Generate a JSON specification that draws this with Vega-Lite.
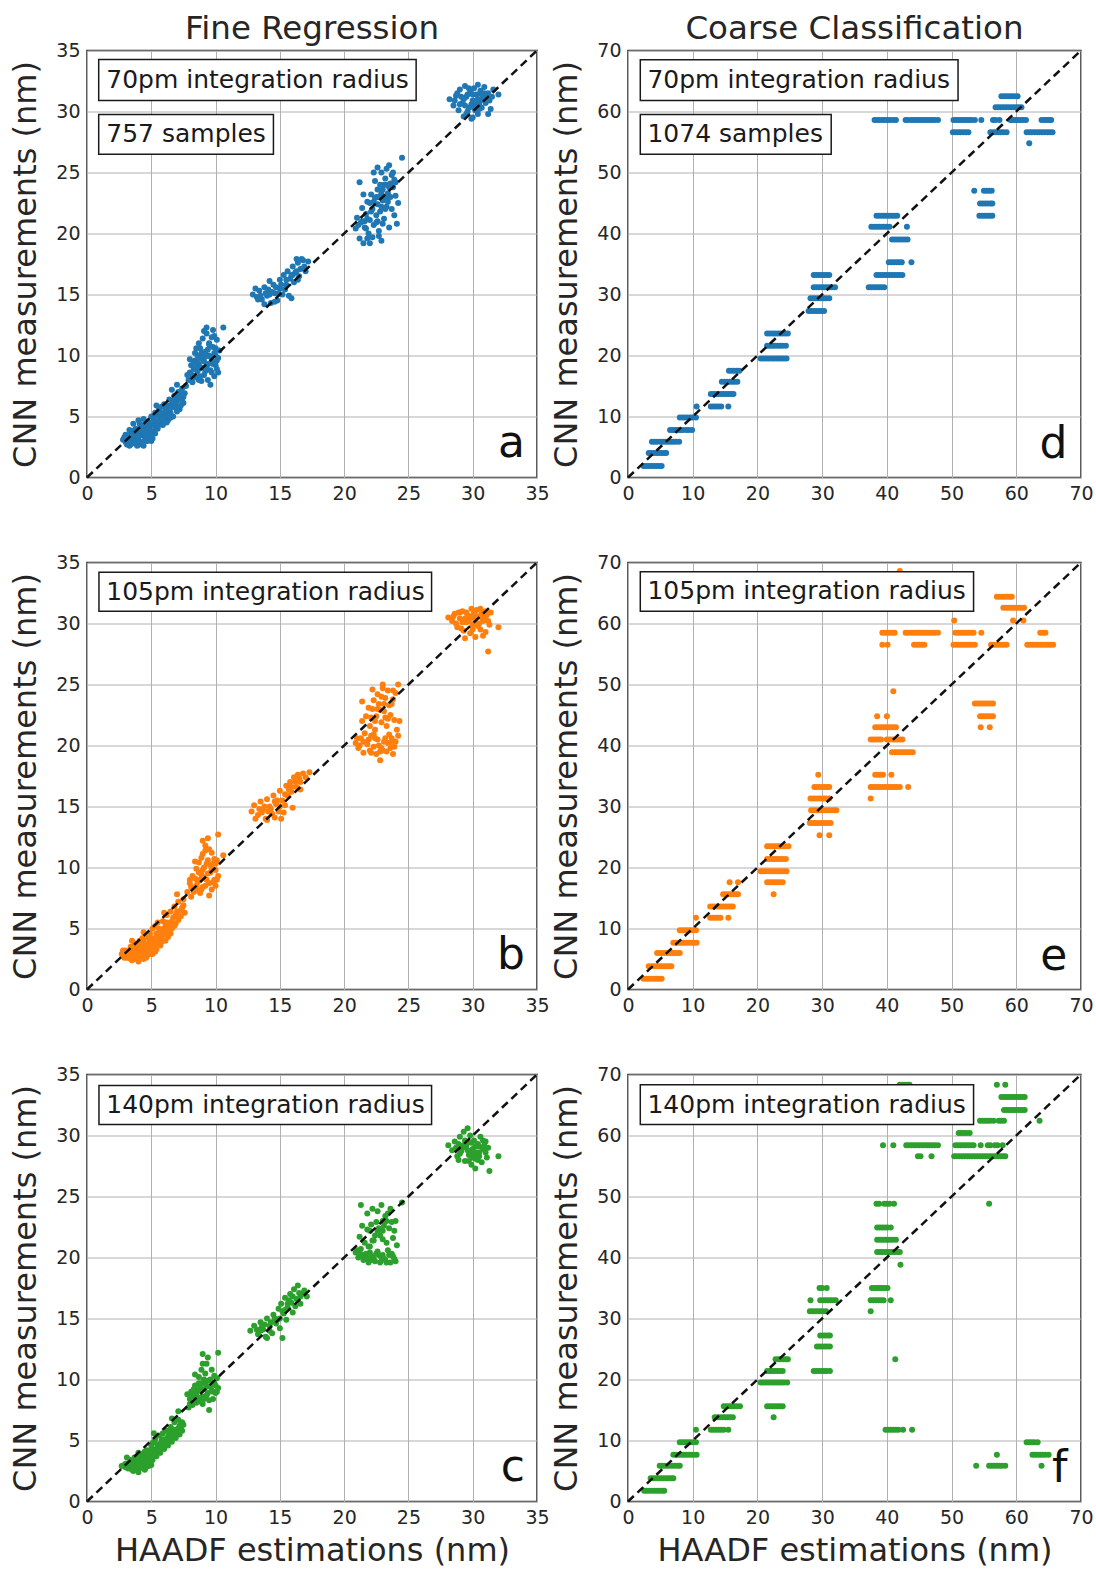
{
"$schema": "https://vega.github.io/schema/vega-lite/v6.json",
"padding": {"left": 9, "top": 11.5, "right": 0, "bottom": 0},
"background": "white",
"bounds": "flush",
"columns": 2,
"spacing": {"row": 85, "column": 91},
"config": {
 "font": "DejaVu Sans",
 "view": {"stroke": "#262626", "strokeWidth": 1.5},
 "axis": {"grid": true, "gridColor": "#b0b0b0", "gridWidth": 1, "ticks": false, "domain": false, "labelFont": "DejaVu Sans", "labelFontSize": 19, "labelColor": "#262626", "labelFlush": false, "labelOverlap": false, "labelBound": false, "titleFont": "DejaVu Sans", "titleFontSize": 32, "titleFontWeight": "normal", "titleColor": "#262626"},
 "axisX": {"labelPadding": 7, "titlePadding": 8},
 "axisY": {"labelPadding": 7, "titlePadding": 13},
 "title": {"font": "DejaVu Sans", "fontSize": 32.5, "fontWeight": "normal", "color": "#262626", "anchor": "middle", "offset": -3.6, "baseline": "alphabetic", "frame": "group"}
},
"datasets": {
"a": [
{"x":2.8,"y":3.1},{"x":3.0,"y":2.9},{"x":3.2,"y":3.3},{"x":3.1,"y":2.7},{"x":3.4,"y":3.0},{"x":3.5,"y":3.6},{"x":3.6,"y":2.8},{"x":3.7,"y":3.3},{"x":3.8,"y":4.0},{"x":3.9,"y":2.6},{"x":4.0,"y":3.1},{"x":4.1,"y":3.7},{"x":4.2,"y":4.3},{"x":4.3,"y":2.9},{"x":4.4,"y":3.4},{"x":4.5,"y":4.0},{"x":4.6,"y":3.2},{"x":4.7,"y":4.6},{"x":4.8,"y":3.6},{"x":4.9,"y":4.2},{"x":5.0,"y":3.0},{"x":5.0,"y":5.0},{"x":5.1,"y":4.4},{"x":5.2,"y":3.8},{"x":5.3,"y":5.3},{"x":5.4,"y":4.6},{"x":5.5,"y":4.0},{"x":5.6,"y":5.6},{"x":5.7,"y":4.8},{"x":5.8,"y":5.2},{"x":5.9,"y":4.3},{"x":6.0,"y":6.0},{"x":6.1,"y":5.0},{"x":6.2,"y":5.6},{"x":6.3,"y":4.7},{"x":6.4,"y":6.4},{"x":6.5,"y":5.3},{"x":6.6,"y":6.0},{"x":6.7,"y":5.0},{"x":6.8,"y":6.7},{"x":6.9,"y":5.7},{"x":7.0,"y":6.3},{"x":7.1,"y":7.0},{"x":7.2,"y":5.6},{"x":7.3,"y":6.6},{"x":7.4,"y":7.3},{"x":7.5,"y":6.1},{"x":7.6,"y":6.9},{"x":3.3,"y":3.9},{"x":4.4,"y":4.8},{"x":3.6,"y":4.4},{"x":4.2,"y":2.8},{"x":3.3,"y":2.6},{"x":4.7,"y":3.0},{"x":5.6,"y":4.6},{"x":6.0,"y":5.3},{"x":7.0,"y":7.6},{"x":6.6,"y":7.2},{"x":5.4,"y":5.9},{"x":4.0,"y":4.7},
{"x":3.0,"y":3.5},{"x":3.4,"y":2.7},{"x":3.5,"y":3.2},{"x":3.8,"y":3.6},{"x":3.9,"y":3.0},{"x":4.1,"y":2.7},{"x":4.2,"y":3.5},{"x":4.3,"y":4.1},{"x":4.5,"y":3.0},{"x":4.6,"y":3.8},{"x":4.8,"y":4.4},{"x":4.9,"y":3.3},{"x":5.1,"y":3.6},{"x":5.2,"y":4.8},{"x":5.3,"y":4.2},{"x":5.5,"y":5.1},{"x":5.7,"y":4.4},{"x":5.8,"y":5.8},{"x":6.0,"y":4.7},{"x":6.2,"y":5.2},{"x":6.4,"y":5.8},{"x":6.5,"y":4.9},{"x":6.8,"y":6.1},{"x":7.0,"y":5.4},{"x":7.2,"y":6.9},{"x":7.5,"y":6.6},{"x":7.7,"y":7.5},
{"x":2.9,"y":3.3},{"x":3.1,"y":3.0},{"x":3.3,"y":3.5},{"x":3.5,"y":2.8},{"x":3.7,"y":3.9},{"x":3.8,"y":2.9},{"x":4.0,"y":3.4},{"x":4.1,"y":4.4},{"x":4.3,"y":3.6},{"x":4.4,"y":2.6},{"x":4.6,"y":4.3},{"x":4.7,"y":3.3},{"x":4.9,"y":3.9},{"x":5.0,"y":4.5},{"x":5.1,"y":3.2},{"x":5.3,"y":3.6},{"x":5.4,"y":5.1},{"x":5.6,"y":4.3},{"x":5.7,"y":5.3},{"x":5.9,"y":4.8},{"x":6.1,"y":5.5},{"x":6.2,"y":4.5},{"x":6.3,"y":5.9},{"x":6.5,"y":5.7},{"x":6.7,"y":6.3},{"x":6.9,"y":6.0},{"x":7.1,"y":6.6},{"x":7.3,"y":5.9},{"x":7.4,"y":6.3},{"x":3.2,"y":2.9},{"x":3.6,"y":3.5},{"x":4.5,"y":3.6},{"x":5.5,"y":4.6},{"x":6.3,"y":5.1},
{"x":7.9,"y":8.0},{"x":8.0,"y":8.6},{"x":8.1,"y":9.2},{"x":8.2,"y":7.8},{"x":8.3,"y":8.9},{"x":8.4,"y":9.6},{"x":8.5,"y":8.2},{"x":8.6,"y":10.0},{"x":8.6,"y":8.7},{"x":8.7,"y":9.3},{"x":8.8,"y":10.6},{"x":8.9,"y":7.9},{"x":8.9,"y":9.0},{"x":9.0,"y":9.7},{"x":9.0,"y":11.4},{"x":9.1,"y":8.4},{"x":9.2,"y":10.3},{"x":9.3,"y":9.1},{"x":9.3,"y":11.8},{"x":9.4,"y":8.0},{"x":9.5,"y":10.0},{"x":9.5,"y":11.0},{"x":9.6,"y":8.8},{"x":9.7,"y":9.5},{"x":9.8,"y":10.7},{"x":9.8,"y":12.1},{"x":9.9,"y":8.3},{"x":10.0,"y":9.2},{"x":10.0,"y":10.0},{"x":10.1,"y":11.3},{"x":10.2,"y":8.6},{"x":10.2,"y":9.8},{"x":8.4,"y":10.2},{"x":7.8,"y":8.4},{"x":10.6,"y":12.3},{"x":9.1,"y":12.0},{"x":9.6,"y":7.6},
{"x":8.0,"y":9.7},{"x":8.2,"y":8.4},{"x":8.5,"y":9.0},{"x":8.7,"y":8.0},{"x":8.9,"y":10.2},{"x":9.1,"y":9.5},{"x":9.2,"y":8.7},{"x":9.4,"y":10.5},{"x":9.6,"y":9.9},{"x":9.7,"y":11.5},{"x":9.9,"y":10.2},{"x":10.1,"y":8.9},{"x":10.3,"y":10.4},{"x":8.7,"y":11.0},{"x":9.3,"y":12.3},
{"x":8.1,"y":8.0},{"x":8.3,"y":9.4},{"x":8.5,"y":10.6},{"x":8.6,"y":9.4},{"x":8.8,"y":8.3},{"x":9.0,"y":10.2},{"x":9.2,"y":9.9},{"x":9.4,"y":9.3},{"x":9.5,"y":10.9},{"x":9.7,"y":8.6},{"x":9.8,"y":9.3},{"x":10.0,"y":10.6},{"x":10.1,"y":9.6},{"x":9.9,"y":11.6},{"x":8.8,"y":9.8},
{"x":12.9,"y":15.0},{"x":13.2,"y":14.8},{"x":13.4,"y":15.3},{"x":13.6,"y":14.6},{"x":13.8,"y":15.6},{"x":14.0,"y":14.9},{"x":14.1,"y":15.4},{"x":14.3,"y":14.3},{"x":14.5,"y":15.8},{"x":14.6,"y":15.1},{"x":14.8,"y":14.5},{"x":15.0,"y":15.5},{"x":15.0,"y":16.2},{"x":15.2,"y":15.0},{"x":15.3,"y":16.6},{"x":15.5,"y":15.8},{"x":15.6,"y":16.9},{"x":15.7,"y":14.9},{"x":15.8,"y":16.3},{"x":16.0,"y":17.3},{"x":16.1,"y":16.0},{"x":16.2,"y":16.8},{"x":16.4,"y":17.6},{"x":16.5,"y":16.5},{"x":16.6,"y":17.1},{"x":16.8,"y":17.8},{"x":17.0,"y":16.9},{"x":17.2,"y":17.7},{"x":14.2,"y":16.1},{"x":13.8,"y":14.2},{"x":15.9,"y":14.7},{"x":16.3,"y":17.9},
{"x":13.5,"y":14.9},{"x":14.2,"y":15.0},{"x":14.9,"y":15.1},{"x":15.4,"y":15.4},{"x":15.9,"y":16.6},{"x":16.4,"y":16.2},{"x":16.9,"y":17.3},{"x":13.1,"y":15.5},{"x":14.6,"y":14.4},{"x":16.7,"y":17.9},
{"x":13.9,"y":15.1},{"x":14.4,"y":15.2},{"x":14.7,"y":15.6},{"x":15.1,"y":15.8},{"x":15.5,"y":16.2},{"x":16.0,"y":16.6},{"x":16.3,"y":16.9},{"x":13.3,"y":14.6},
{"x":20.9,"y":20.4},{"x":21.0,"y":21.3},{"x":21.2,"y":19.6},{"x":21.3,"y":20.9},{"x":21.4,"y":22.1},{"x":21.5,"y":19.2},{"x":21.6,"y":20.5},{"x":21.7,"y":21.6},{"x":21.8,"y":22.6},{"x":21.9,"y":20.0},{"x":22.0,"y":21.1},{"x":22.1,"y":23.2},{"x":22.2,"y":19.7},{"x":22.2,"y":22.0},{"x":22.3,"y":20.7},{"x":22.4,"y":24.3},{"x":22.5,"y":21.5},{"x":22.5,"y":23.0},{"x":22.6,"y":22.4},{"x":22.7,"y":20.2},{"x":22.8,"y":24.0},{"x":22.8,"y":21.8},{"x":22.9,"y":25.0},{"x":23.0,"y":22.7},{"x":23.0,"y":23.6},{"x":23.1,"y":21.2},{"x":23.2,"y":24.5},{"x":23.3,"y":22.2},{"x":23.3,"y":25.3},{"x":23.4,"y":23.3},{"x":23.5,"y":20.5},{"x":23.6,"y":24.1},{"x":23.7,"y":22.0},{"x":23.8,"y":25.0},{"x":23.9,"y":21.5},{"x":24.0,"y":23.1},{"x":24.1,"y":20.8},{"x":24.2,"y":22.5},{"x":24.5,"y":26.2},{"x":21.2,"y":24.2},{"x":22.0,"y":19.2},{"x":22.7,"y":19.8},{"x":23.5,"y":25.6},{"x":22.3,"y":25.0},{"x":23.8,"y":23.8},
{"x":21.6,"y":21.0},{"x":22.0,"y":22.5},{"x":22.4,"y":22.9},{"x":22.6,"y":21.0},{"x":22.9,"y":23.3},{"x":23.1,"y":24.0},{"x":23.2,"y":22.0},{"x":23.5,"y":23.8},{"x":23.7,"y":24.8},{"x":22.6,"y":23.6},{"x":21.8,"y":19.6},{"x":23.0,"y":20.8},{"x":24.0,"y":24.2},{"x":21.5,"y":23.2},{"x":22.9,"y":19.4},
{"x":21.1,"y":20.7},{"x":21.4,"y":21.0},{"x":21.8,"y":21.2},{"x":22.1,"y":21.8},{"x":22.3,"y":22.6},{"x":22.5,"y":20.9},{"x":22.7,"y":23.0},{"x":22.9,"y":22.2},{"x":23.2,"y":23.0},{"x":23.4,"y":22.6},{"x":23.6,"y":23.0},{"x":23.9,"y":24.4},{"x":22.6,"y":25.4},{"x":23.3,"y":24.0},{"x":21.7,"y":20.4},
{"x":28.2,"y":31.0},{"x":28.5,"y":30.5},{"x":28.7,"y":31.3},{"x":28.9,"y":30.1},{"x":29.0,"y":31.8},{"x":29.2,"y":30.7},{"x":29.3,"y":29.6},{"x":29.4,"y":32.1},{"x":29.5,"y":31.2},{"x":29.7,"y":30.3},{"x":29.8,"y":31.6},{"x":29.9,"y":29.4},{"x":30.0,"y":30.9},{"x":30.1,"y":31.9},{"x":30.2,"y":30.1},{"x":30.3,"y":31.4},{"x":30.4,"y":29.8},{"x":30.5,"y":30.6},{"x":30.6,"y":31.7},{"x":30.7,"y":30.3},{"x":30.8,"y":31.1},{"x":30.9,"y":32.0},{"x":31.0,"y":30.7},{"x":31.2,"y":31.5},{"x":31.4,"y":30.2},{"x":31.5,"y":31.2},{"x":32.0,"y":31.4},{"x":31.2,"y":29.8},{"x":29.6,"y":30.0},{"x":30.0,"y":29.5},
{"x":28.8,"y":31.5},{"x":29.1,"y":31.2},{"x":29.4,"y":30.5},{"x":29.7,"y":31.9},{"x":30.0,"y":31.4},{"x":30.2,"y":30.6},{"x":30.4,"y":32.2},{"x":30.6,"y":30.9},{"x":30.9,"y":31.5},{"x":31.3,"y":30.9},{"x":31.6,"y":31.8},{"x":29.5,"y":29.8},
{"x":28.6,"y":30.9},{"x":29.0,"y":30.6},{"x":29.3,"y":31.0},{"x":29.6,"y":31.4},{"x":29.9,"y":30.6},{"x":30.1,"y":30.3},{"x":30.4,"y":31.0},{"x":30.7,"y":31.4},{"x":31.0,"y":31.2},{"x":30.5,"y":30.2}
],
"b": [
{"x":2.7,"y":2.9},{"x":3.0,"y":3.2},{"x":3.1,"y":2.6},{"x":3.3,"y":2.9},{"x":3.4,"y":3.5},{"x":3.5,"y":2.4},{"x":3.6,"y":3.1},{"x":3.7,"y":3.8},{"x":3.8,"y":2.7},{"x":3.9,"y":3.3},{"x":4.0,"y":2.3},{"x":4.1,"y":4.0},{"x":4.2,"y":3.0},{"x":4.3,"y":3.6},{"x":4.4,"y":2.5},{"x":4.5,"y":4.3},{"x":4.6,"y":3.2},{"x":4.7,"y":2.8},{"x":4.8,"y":3.8},{"x":4.9,"y":4.6},{"x":5.0,"y":3.4},{"x":5.1,"y":5.0},{"x":5.2,"y":4.0},{"x":5.3,"y":3.1},{"x":5.4,"y":4.6},{"x":5.5,"y":5.5},{"x":5.6,"y":3.8},{"x":5.7,"y":4.9},{"x":5.8,"y":4.2},{"x":5.9,"y":5.6},{"x":6.0,"y":4.5},{"x":6.1,"y":5.2},{"x":6.2,"y":6.1},{"x":6.3,"y":4.3},{"x":6.4,"y":5.4},{"x":6.5,"y":6.4},{"x":6.6,"y":5.0},{"x":6.7,"y":5.9},{"x":6.8,"y":6.8},{"x":6.9,"y":5.4},{"x":7.0,"y":6.4},{"x":7.1,"y":7.2},{"x":7.2,"y":6.0},{"x":7.4,"y":6.7},{"x":7.5,"y":7.4},{"x":7.6,"y":6.3},{"x":3.5,"y":4.0},{"x":4.4,"y":4.7},{"x":5.0,"y":2.9},{"x":4.0,"y":3.6},{"x":6.0,"y":6.3},{"x":7.0,"y":7.8},
{"x":2.9,"y":2.6},{"x":3.2,"y":3.0},{"x":3.4,"y":2.5},{"x":3.6,"y":2.9},{"x":3.8,"y":3.4},{"x":4.0,"y":2.7},{"x":4.2,"y":3.3},{"x":4.4,"y":3.9},{"x":4.5,"y":2.8},{"x":4.7,"y":3.5},{"x":4.9,"y":3.0},{"x":5.1,"y":4.2},{"x":5.2,"y":3.6},{"x":5.4,"y":3.3},{"x":5.6,"y":4.4},{"x":5.8,"y":3.9},{"x":6.0,"y":5.0},{"x":6.2,"y":4.7},{"x":6.4,"y":4.9},{"x":6.6,"y":5.6},{"x":6.8,"y":5.2},{"x":7.0,"y":6.0},{"x":7.3,"y":6.5},{"x":7.5,"y":6.9},{"x":5.3,"y":5.2},
{"x":2.8,"y":3.2},{"x":3.1,"y":2.9},{"x":3.3,"y":2.6},{"x":3.5,"y":3.1},{"x":3.7,"y":2.5},{"x":3.9,"y":2.9},{"x":4.1,"y":3.2},{"x":4.3,"y":2.7},{"x":4.5,"y":3.5},{"x":4.6,"y":2.6},{"x":4.8,"y":3.2},{"x":5.0,"y":4.0},{"x":5.1,"y":2.9},{"x":5.3,"y":3.7},{"x":5.5,"y":4.2},{"x":5.7,"y":3.6},{"x":5.9,"y":4.6},{"x":6.1,"y":4.0},{"x":6.3,"y":5.0},{"x":6.5,"y":4.6},{"x":6.7,"y":5.3},{"x":6.9,"y":6.1},{"x":7.1,"y":5.7},{"x":7.3,"y":6.0},{"x":4.1,"y":3.6},{"x":4.8,"y":4.2},{"x":5.6,"y":5.0},{"x":6.2,"y":5.5},{"x":3.8,"y":3.0},{"x":4.3,"y":4.2},
{"x":7.8,"y":8.0},{"x":8.0,"y":8.7},{"x":8.1,"y":7.6},{"x":8.2,"y":9.3},{"x":8.3,"y":8.3},{"x":8.5,"y":9.9},{"x":8.6,"y":8.8},{"x":8.7,"y":10.4},{"x":8.8,"y":7.9},{"x":8.9,"y":9.4},{"x":9.0,"y":11.1},{"x":9.0,"y":8.4},{"x":9.1,"y":10.0},{"x":9.2,"y":11.8},{"x":9.3,"y":9.0},{"x":9.4,"y":10.6},{"x":9.5,"y":7.7},{"x":9.5,"y":11.5},{"x":9.6,"y":9.6},{"x":9.7,"y":8.2},{"x":9.8,"y":10.3},{"x":9.9,"y":9.0},{"x":10.0,"y":9.8},{"x":10.0,"y":8.5},{"x":10.1,"y":10.6},{"x":10.2,"y":9.3},{"x":9.4,"y":12.4},{"x":10.2,"y":12.7},{"x":8.4,"y":10.5},{"x":10.6,"y":11.0},
{"x":8.0,"y":9.0},{"x":8.3,"y":8.0},{"x":8.5,"y":8.5},{"x":8.7,"y":9.6},{"x":8.9,"y":8.2},{"x":9.1,"y":9.2},{"x":9.3,"y":10.3},{"x":9.5,"y":8.7},{"x":9.7,"y":9.9},{"x":9.9,"y":10.7},{"x":10.1,"y":9.0},{"x":9.2,"y":11.4},{"x":9.0,"y":12.2},
{"x":8.1,"y":8.4},{"x":8.4,"y":9.1},{"x":8.6,"y":8.1},{"x":8.8,"y":9.0},{"x":9.0,"y":9.8},{"x":9.2,"y":8.5},{"x":9.4,"y":9.5},{"x":9.6,"y":10.2},{"x":9.8,"y":8.8},{"x":10.0,"y":10.3},{"x":8.9,"y":10.8},{"x":9.7,"y":11.2},
{"x":12.8,"y":14.6},{"x":13.0,"y":15.1},{"x":13.3,"y":14.3},{"x":13.5,"y":15.4},{"x":13.7,"y":14.8},{"x":13.9,"y":14.0},{"x":14.0,"y":15.6},{"x":14.2,"y":15.0},{"x":14.4,"y":14.4},{"x":14.5,"y":15.9},{"x":14.7,"y":15.2},{"x":14.9,"y":14.6},{"x":15.0,"y":16.3},{"x":15.2,"y":15.5},{"x":15.3,"y":14.5},{"x":15.5,"y":16.7},{"x":15.6,"y":15.9},{"x":15.8,"y":17.0},{"x":15.9,"y":16.2},{"x":16.0,"y":14.9},{"x":16.1,"y":17.4},{"x":16.3,"y":16.6},{"x":16.4,"y":17.6},{"x":16.6,"y":17.0},{"x":16.8,"y":17.7},{"x":17.3,"y":17.8},{"x":14.0,"y":13.9},{"x":15.1,"y":14.0},
{"x":13.6,"y":14.5},{"x":14.3,"y":14.8},{"x":14.8,"y":15.5},{"x":15.4,"y":15.1},{"x":15.7,"y":16.4},{"x":16.2,"y":17.0},{"x":16.6,"y":16.4},{"x":13.1,"y":14.0},{"x":14.6,"y":14.1},{"x":17.0,"y":17.4},
{"x":13.8,"y":15.0},{"x":14.1,"y":14.6},{"x":14.6,"y":15.4},{"x":15.0,"y":15.0},{"x":15.4,"y":16.0},{"x":15.9,"y":16.6},{"x":16.5,"y":17.3},{"x":13.4,"y":14.8},
{"x":20.9,"y":20.2},{"x":21.1,"y":19.8},{"x":21.3,"y":20.6},{"x":21.5,"y":19.4},{"x":21.6,"y":21.0},{"x":21.8,"y":20.1},{"x":22.0,"y":19.6},{"x":22.1,"y":20.8},{"x":22.3,"y":19.9},{"x":22.5,"y":19.3},{"x":22.6,"y":20.5},{"x":22.8,"y":18.8},{"x":22.9,"y":19.8},{"x":23.1,"y":20.3},{"x":23.3,"y":19.5},{"x":23.5,"y":20.9},{"x":23.6,"y":19.8},{"x":23.8,"y":19.3},{"x":24.0,"y":20.3},{"x":21.4,"y":22.0},{"x":21.4,"y":23.6},{"x":21.7,"y":22.4},{"x":22.0,"y":21.6},{"x":22.2,"y":23.0},{"x":22.4,"y":21.3},{"x":22.5,"y":22.4},{"x":22.6,"y":24.2},{"x":22.7,"y":23.4},{"x":22.9,"y":21.9},{"x":23.0,"y":24.7},{"x":23.1,"y":22.8},{"x":23.2,"y":23.9},{"x":23.3,"y":21.6},{"x":23.4,"y":24.5},{"x":23.6,"y":22.5},{"x":23.7,"y":23.4},{"x":23.9,"y":22.1},{"x":24.0,"y":24.3},{"x":24.1,"y":21.3},{"x":24.2,"y":25.0},{"x":24.2,"y":20.8},{"x":22.2,"y":24.6},{"x":23.0,"y":25.0},
{"x":21.2,"y":20.0},{"x":21.9,"y":20.5},{"x":22.3,"y":20.9},{"x":22.7,"y":20.0},{"x":23.0,"y":19.6},{"x":23.4,"y":20.2},{"x":23.7,"y":20.6},{"x":22.4,"y":22.0},{"x":22.8,"y":22.9},{"x":23.2,"y":22.3},{"x":23.5,"y":23.3},{"x":23.8,"y":24.5},{"x":22.9,"y":24.0},{"x":21.9,"y":23.1},{"x":24.3,"y":22.0},
{"x":21.0,"y":20.6},{"x":21.5,"y":20.3},{"x":22.1,"y":19.4},{"x":22.4,"y":20.6},{"x":22.8,"y":19.5},{"x":23.2,"y":20.6},{"x":23.6,"y":20.2},{"x":23.9,"y":19.9},{"x":22.1,"y":22.3},{"x":22.6,"y":23.0},{"x":23.1,"y":23.4},{"x":23.4,"y":22.2},{"x":23.8,"y":23.8},{"x":22.3,"y":23.7},
{"x":28.1,"y":30.5},{"x":28.4,"y":30.2},{"x":28.6,"y":30.8},{"x":28.8,"y":29.7},{"x":29.0,"y":30.4},{"x":29.2,"y":31.0},{"x":29.3,"y":29.4},{"x":29.5,"y":30.1},{"x":29.6,"y":30.7},{"x":29.8,"y":29.2},{"x":29.9,"y":31.2},{"x":30.0,"y":29.9},{"x":30.1,"y":30.5},{"x":30.2,"y":28.9},{"x":30.3,"y":31.1},{"x":30.5,"y":30.0},{"x":30.6,"y":29.5},{"x":30.7,"y":30.8},{"x":30.8,"y":29.0},{"x":30.9,"y":30.4},{"x":31.0,"y":31.0},{"x":31.2,"y":30.2},{"x":31.4,"y":30.9},{"x":31.0,"y":29.3},{"x":32.0,"y":29.7},{"x":31.2,"y":27.7},{"x":29.4,"y":28.8},{"x":28.7,"y":30.0},
{"x":28.9,"y":30.9},{"x":29.2,"y":30.1},{"x":29.5,"y":30.9},{"x":29.8,"y":30.5},{"x":30.2,"y":30.2},{"x":30.4,"y":30.6},{"x":30.6,"y":31.2},{"x":30.8,"y":30.2},{"x":31.1,"y":30.7},{"x":29.1,"y":29.6},{"x":30.0,"y":29.5},{"x":31.3,"y":29.9},
{"x":28.5,"y":30.6},{"x":29.0,"y":30.9},{"x":29.4,"y":30.4},{"x":29.7,"y":30.2},{"x":30.1,"y":30.9},{"x":30.4,"y":29.8},{"x":30.7,"y":30.5},{"x":31.0,"y":30.3},{"x":29.9,"y":30.6}
],
"c": [
{"x":2.7,"y":2.9},{"x":3.0,"y":3.1},{"x":3.2,"y":2.7},{"x":3.4,"y":3.4},{"x":3.5,"y":2.9},{"x":3.6,"y":2.5},{"x":3.7,"y":3.6},{"x":3.8,"y":3.1},{"x":3.9,"y":2.6},{"x":4.0,"y":4.0},{"x":4.1,"y":3.3},{"x":4.2,"y":2.8},{"x":4.3,"y":3.8},{"x":4.4,"y":3.0},{"x":4.5,"y":2.6},{"x":4.6,"y":3.5},{"x":4.7,"y":4.2},{"x":4.8,"y":3.1},{"x":4.9,"y":3.7},{"x":5.0,"y":4.6},{"x":5.1,"y":3.4},{"x":5.2,"y":4.1},{"x":5.3,"y":5.1},{"x":5.4,"y":3.7},{"x":5.5,"y":4.4},{"x":5.6,"y":5.4},{"x":5.7,"y":4.0},{"x":5.8,"y":4.8},{"x":5.9,"y":5.6},{"x":6.0,"y":4.3},{"x":6.1,"y":5.1},{"x":6.2,"y":5.8},{"x":6.3,"y":4.6},{"x":6.4,"y":5.4},{"x":6.5,"y":6.1},{"x":6.6,"y":4.9},{"x":6.7,"y":5.6},{"x":6.8,"y":6.5},{"x":6.9,"y":5.2},{"x":7.0,"y":5.9},{"x":7.1,"y":6.7},{"x":7.2,"y":5.5},{"x":7.3,"y":6.1},{"x":7.4,"y":5.8},{"x":7.5,"y":6.3},{"x":6.6,"y":6.8},{"x":3.1,"y":3.6},{"x":4.0,"y":2.4},{"x":5.2,"y":5.6},{"x":7.1,"y":7.4},
{"x":3.0,"y":2.8},{"x":3.3,"y":3.0},{"x":3.5,"y":3.3},{"x":3.7,"y":2.8},{"x":3.9,"y":3.4},{"x":4.1,"y":3.0},{"x":4.3,"y":3.4},{"x":4.4,"y":2.7},{"x":4.6,"y":3.1},{"x":4.8,"y":3.6},{"x":5.0,"y":3.0},{"x":5.2,"y":3.7},{"x":5.4,"y":4.3},{"x":5.6,"y":4.0},{"x":5.8,"y":4.5},{"x":6.0,"y":5.0},{"x":6.2,"y":4.9},{"x":6.4,"y":5.0},{"x":6.6,"y":5.4},{"x":6.8,"y":5.7},{"x":7.0,"y":5.5},{"x":7.2,"y":6.2},{"x":7.4,"y":6.5},{"x":4.5,"y":4.1},{"x":5.1,"y":4.8},
{"x":2.9,"y":3.0},{"x":3.1,"y":2.8},{"x":3.3,"y":3.2},{"x":3.5,"y":2.6},{"x":3.7,"y":3.2},{"x":3.9,"y":2.9},{"x":4.0,"y":3.6},{"x":4.2,"y":3.1},{"x":4.4,"y":3.5},{"x":4.6,"y":2.8},{"x":4.7,"y":3.8},{"x":4.9,"y":3.3},{"x":5.1,"y":4.3},{"x":5.3,"y":3.9},{"x":5.5,"y":4.7},{"x":5.7,"y":4.4},{"x":5.9,"y":5.1},{"x":6.1,"y":4.6},{"x":6.3,"y":5.3},{"x":6.5,"y":5.2},{"x":6.7,"y":5.9},{"x":6.9,"y":5.6},{"x":7.1,"y":6.0},{"x":7.3,"y":6.4},{"x":4.2,"y":3.9},{"x":5.0,"y":4.1},{"x":5.8,"y":5.0},{"x":6.4,"y":5.7},{"x":3.6,"y":3.0},{"x":4.8,"y":2.9},
{"x":7.9,"y":7.7},{"x":8.0,"y":8.4},{"x":8.1,"y":9.0},{"x":8.2,"y":7.9},{"x":8.3,"y":8.6},{"x":8.4,"y":9.5},{"x":8.5,"y":8.1},{"x":8.6,"y":9.1},{"x":8.7,"y":10.2},{"x":8.8,"y":8.5},{"x":8.9,"y":9.7},{"x":9.0,"y":11.3},{"x":9.0,"y":8.0},{"x":9.1,"y":9.2},{"x":9.2,"y":10.5},{"x":9.3,"y":8.7},{"x":9.4,"y":9.9},{"x":9.4,"y":11.8},{"x":9.5,"y":7.5},{"x":9.6,"y":9.4},{"x":9.7,"y":10.8},{"x":9.8,"y":8.4},{"x":9.9,"y":9.7},{"x":10.0,"y":8.9},{"x":10.1,"y":10.1},{"x":10.2,"y":9.3},{"x":8.4,"y":10.4},{"x":10.2,"y":12.2},{"x":9.0,"y":12.1},{"x":7.8,"y":8.8},
{"x":8.0,"y":8.0},{"x":8.2,"y":8.8},{"x":8.5,"y":8.8},{"x":8.7,"y":8.2},{"x":8.9,"y":9.1},{"x":9.1,"y":8.4},{"x":9.2,"y":9.7},{"x":9.4,"y":8.9},{"x":9.6,"y":10.0},{"x":9.8,"y":9.0},{"x":10.0,"y":9.5},{"x":8.9,"y":10.8},{"x":9.3,"y":11.3},
{"x":8.1,"y":8.1},{"x":8.3,"y":9.2},{"x":8.6,"y":8.4},{"x":8.8,"y":9.3},{"x":9.0,"y":8.6},{"x":9.1,"y":10.0},{"x":9.3,"y":9.4},{"x":9.5,"y":8.3},{"x":9.7,"y":9.1},{"x":9.9,"y":10.3},{"x":10.1,"y":9.0},{"x":8.7,"y":9.7},
{"x":12.7,"y":14.0},{"x":13.0,"y":14.4},{"x":13.3,"y":13.7},{"x":13.5,"y":14.7},{"x":13.7,"y":14.1},{"x":13.9,"y":13.5},{"x":14.0,"y":15.0},{"x":14.2,"y":14.4},{"x":14.4,"y":13.8},{"x":14.5,"y":15.3},{"x":14.7,"y":14.6},{"x":14.9,"y":15.8},{"x":15.0,"y":14.2},{"x":15.1,"y":16.2},{"x":15.3,"y":15.4},{"x":15.4,"y":16.7},{"x":15.5,"y":14.9},{"x":15.6,"y":15.9},{"x":15.8,"y":17.0},{"x":15.9,"y":16.3},{"x":16.0,"y":15.5},{"x":16.1,"y":17.4},{"x":16.3,"y":16.6},{"x":16.4,"y":17.7},{"x":16.6,"y":16.2},{"x":16.8,"y":17.0},{"x":17.1,"y":16.8},{"x":15.2,"y":13.4},{"x":14.0,"y":13.4},
{"x":13.6,"y":14.3},{"x":14.2,"y":14.0},{"x":14.6,"y":15.0},{"x":15.0,"y":15.0},{"x":15.4,"y":15.7},{"x":15.7,"y":16.5},{"x":16.2,"y":16.0},{"x":16.5,"y":17.1},{"x":13.2,"y":14.1},{"x":16.9,"y":17.3},
{"x":13.8,"y":14.5},{"x":14.3,"y":14.7},{"x":14.8,"y":14.9},{"x":15.2,"y":15.6},{"x":15.6,"y":16.2},{"x":16.0,"y":16.8},{"x":16.6,"y":16.8},{"x":13.5,"y":14.0},
{"x":20.9,"y":20.4},{"x":21.1,"y":20.0},{"x":21.3,"y":20.7},{"x":21.5,"y":19.8},{"x":21.7,"y":20.3},{"x":21.9,"y":19.6},{"x":22.0,"y":20.9},{"x":22.2,"y":20.1},{"x":22.4,"y":19.7},{"x":22.6,"y":20.5},{"x":22.8,"y":19.6},{"x":23.0,"y":20.2},{"x":23.2,"y":19.8},{"x":23.4,"y":20.6},{"x":23.6,"y":19.6},{"x":23.8,"y":20.1},{"x":24.0,"y":19.7},{"x":21.2,"y":21.7},{"x":21.4,"y":22.6},{"x":21.6,"y":21.2},{"x":21.8,"y":23.6},{"x":22.0,"y":22.2},{"x":22.2,"y":24.0},{"x":22.3,"y":21.4},{"x":22.5,"y":22.9},{"x":22.6,"y":23.8},{"x":22.8,"y":21.8},{"x":22.9,"y":24.3},{"x":23.1,"y":22.6},{"x":23.2,"y":23.4},{"x":23.3,"y":21.2},{"x":23.5,"y":22.4},{"x":23.6,"y":24.0},{"x":23.8,"y":21.6},{"x":24.0,"y":23.0},{"x":24.1,"y":21.0},{"x":24.5,"y":24.5},{"x":21.3,"y":24.3},{"x":21.9,"y":20.9},
{"x":21.0,"y":20.6},{"x":21.4,"y":20.2},{"x":21.8,"y":20.0},{"x":22.1,"y":19.8},{"x":22.5,"y":20.3},{"x":22.9,"y":20.0},{"x":23.3,"y":19.6},{"x":23.7,"y":20.3},{"x":22.4,"y":21.8},{"x":22.7,"y":22.4},{"x":23.0,"y":23.0},{"x":23.4,"y":23.6},{"x":23.0,"y":21.5},{"x":22.1,"y":22.7},{"x":23.9,"y":22.2},
{"x":21.2,"y":20.3},{"x":21.6,"y":19.9},{"x":22.0,"y":20.4},{"x":22.3,"y":19.9},{"x":22.7,"y":20.2},{"x":23.1,"y":19.9},{"x":23.5,"y":20.2},{"x":23.9,"y":19.9},{"x":22.2,"y":21.4},{"x":22.6,"y":22.2},{"x":23.0,"y":22.2},{"x":23.3,"y":23.0},{"x":23.7,"y":22.9},{"x":21.8,"y":22.3},
{"x":28.1,"y":29.2},{"x":28.4,"y":28.8},{"x":28.6,"y":29.5},{"x":28.8,"y":28.3},{"x":29.0,"y":29.9},{"x":29.1,"y":28.7},{"x":29.3,"y":30.3},{"x":29.4,"y":27.9},{"x":29.5,"y":29.1},{"x":29.7,"y":28.4},{"x":29.8,"y":30.0},{"x":29.9,"y":27.6},{"x":30.0,"y":28.9},{"x":30.1,"y":29.6},{"x":30.2,"y":28.1},{"x":30.4,"y":29.3},{"x":30.5,"y":28.6},{"x":30.6,"y":29.9},{"x":30.7,"y":27.8},{"x":30.8,"y":28.9},{"x":31.0,"y":29.5},{"x":31.1,"y":28.2},{"x":31.2,"y":29.0},{"x":30.2,"y":27.3},{"x":31.3,"y":27.1},{"x":32.0,"y":28.3},{"x":29.6,"y":30.6},{"x":28.9,"y":28.0},
{"x":28.9,"y":29.3},{"x":29.2,"y":29.0},{"x":29.6,"y":28.8},{"x":29.9,"y":29.4},{"x":30.3,"y":28.6},{"x":30.1,"y":28.4},{"x":30.5,"y":29.1},{"x":30.9,"y":29.2},{"x":29.4,"y":29.6},{"x":30.4,"y":28.0},{"x":31.0,"y":28.6},{"x":29.7,"y":27.9},
{"x":28.7,"y":29.0},{"x":29.0,"y":28.5},{"x":29.3,"y":29.2},{"x":29.6,"y":29.4},{"x":29.9,"y":28.6},{"x":30.2,"y":29.1},{"x":30.5,"y":28.3},{"x":30.8,"y":29.6},{"x":30.0,"y":28.2}
],
"d": [
{"x":2.4,"y":1.9},{"x":2.8,"y":1.9},{"x":3.2,"y":1.9},{"x":3.6,"y":1.9},{"x":4.0,"y":1.9},{"x":4.4,"y":1.9},{"x":4.8,"y":1.9},{"x":5.2,"y":1.9},
{"x":3.2,"y":4.0},{"x":3.6,"y":4.0},{"x":4.0,"y":4.0},{"x":4.4,"y":4.0},{"x":4.8,"y":4.0},{"x":5.2,"y":4.0},{"x":5.6,"y":4.0},{"x":5.9,"y":4.0},
{"x":3.7,"y":5.85},{"x":4.1,"y":5.85},{"x":4.5,"y":5.85},{"x":5.0,"y":5.85},{"x":5.4,"y":5.85},{"x":5.8,"y":5.85},{"x":6.2,"y":5.85},{"x":6.6,"y":5.85},{"x":7.0,"y":5.85},{"x":7.4,"y":5.85},{"x":7.9,"y":5.85},
{"x":6.5,"y":7.8},{"x":6.9,"y":7.8},{"x":7.3,"y":7.8},{"x":7.7,"y":7.8},{"x":8.1,"y":7.8},{"x":8.5,"y":7.8},{"x":9.0,"y":7.8},{"x":9.4,"y":7.8},{"x":9.9,"y":7.8},
{"x":8.0,"y":9.85},{"x":8.4,"y":9.85},{"x":8.8,"y":9.85},{"x":9.2,"y":9.85},{"x":9.6,"y":9.85},{"x":10.0,"y":9.85},{"x":10.5,"y":9.85},
{"x":10.6,"y":11.65},{"x":12.8,"y":11.65},{"x":13.2,"y":11.65},{"x":13.6,"y":11.65},{"x":14.0,"y":11.65},{"x":14.4,"y":11.65},{"x":15.5,"y":11.65},
{"x":12.8,"y":13.7},{"x":13.2,"y":13.7},{"x":13.6,"y":13.7},{"x":14.0,"y":13.7},{"x":14.4,"y":13.7},{"x":14.8,"y":13.7},{"x":15.2,"y":13.7},{"x":15.6,"y":13.7},{"x":16.0,"y":13.7},{"x":16.3,"y":13.7},
{"x":14.5,"y":15.7},{"x":14.9,"y":15.7},{"x":15.3,"y":15.7},{"x":15.7,"y":15.7},{"x":16.1,"y":15.7},{"x":16.5,"y":15.7},{"x":16.9,"y":15.7},
{"x":15.6,"y":17.5},{"x":16.0,"y":17.5},{"x":16.4,"y":17.5},{"x":16.8,"y":17.5},{"x":17.2,"y":17.5},
{"x":20.5,"y":19.5},{"x":20.9,"y":19.5},{"x":21.3,"y":19.5},{"x":21.7,"y":19.5},{"x":22.1,"y":19.5},{"x":22.5,"y":19.5},{"x":22.9,"y":19.5},{"x":23.3,"y":19.5},{"x":23.7,"y":19.5},{"x":24.1,"y":19.5},{"x":24.5,"y":19.5},
{"x":21.5,"y":21.6},{"x":21.9,"y":21.6},{"x":22.3,"y":21.6},{"x":22.7,"y":21.6},{"x":23.1,"y":21.6},{"x":23.5,"y":21.6},{"x":23.9,"y":21.6},{"x":24.4,"y":21.6},
{"x":21.5,"y":23.6},{"x":21.9,"y":23.6},{"x":22.3,"y":23.6},{"x":22.7,"y":23.6},{"x":23.1,"y":23.6},{"x":23.5,"y":23.6},{"x":23.9,"y":23.6},{"x":24.3,"y":23.6},{"x":24.7,"y":23.6},
{"x":27.9,"y":27.3},{"x":28.3,"y":27.3},{"x":28.7,"y":27.3},{"x":29.1,"y":27.3},{"x":29.5,"y":27.3},{"x":29.9,"y":27.3},{"x":30.3,"y":27.3},
{"x":28.2,"y":29.4},{"x":28.6,"y":29.4},{"x":29.0,"y":29.4},{"x":29.4,"y":29.4},{"x":29.8,"y":29.4},{"x":30.2,"y":29.4},{"x":30.6,"y":29.4},{"x":31.1,"y":29.4},
{"x":28.7,"y":31.2},{"x":29.1,"y":31.2},{"x":29.5,"y":31.2},{"x":29.9,"y":31.2},{"x":30.3,"y":31.2},{"x":30.7,"y":31.2},{"x":31.1,"y":31.2},{"x":31.5,"y":31.2},{"x":32.0,"y":31.2},
{"x":37.2,"y":31.2},{"x":37.6,"y":31.2},{"x":38.0,"y":31.2},{"x":38.4,"y":31.2},{"x":38.8,"y":31.2},{"x":39.2,"y":31.2},{"x":39.6,"y":31.2},
{"x":28.7,"y":33.2},{"x":29.1,"y":33.2},{"x":29.5,"y":33.2},{"x":29.9,"y":33.2},{"x":30.3,"y":33.2},{"x":30.7,"y":33.2},{"x":31.1,"y":33.2},
{"x":38.4,"y":33.2},{"x":38.8,"y":33.2},{"x":39.2,"y":33.2},{"x":39.6,"y":33.2},{"x":40.0,"y":33.2},{"x":40.4,"y":33.2},{"x":40.8,"y":33.2},{"x":41.2,"y":33.2},{"x":41.6,"y":33.2},{"x":42.0,"y":33.2},{"x":42.4,"y":33.2},
{"x":40.3,"y":35.3},{"x":40.7,"y":35.3},{"x":41.1,"y":35.3},{"x":41.5,"y":35.3},{"x":41.9,"y":35.3},{"x":42.3,"y":35.3},{"x":43.8,"y":35.3},
{"x":40.8,"y":39.0},{"x":41.2,"y":39.0},{"x":41.6,"y":39.0},{"x":42.0,"y":39.0},{"x":42.4,"y":39.0},{"x":42.8,"y":39.0},{"x":43.2,"y":39.0},
{"x":37.6,"y":41.1},{"x":38.0,"y":41.1},{"x":38.4,"y":41.1},{"x":38.8,"y":41.1},{"x":39.2,"y":41.1},{"x":39.6,"y":41.1},{"x":40.0,"y":41.1},{"x":40.4,"y":41.1},{"x":43.1,"y":41.1},
{"x":38.4,"y":42.9},{"x":38.8,"y":42.9},{"x":39.2,"y":42.9},{"x":39.6,"y":42.9},{"x":40.0,"y":42.9},{"x":40.4,"y":42.9},{"x":40.8,"y":42.9},{"x":41.2,"y":42.9},{"x":41.6,"y":42.9},
{"x":54.3,"y":42.9},{"x":54.7,"y":42.9},{"x":55.1,"y":42.9},{"x":55.5,"y":42.9},{"x":55.9,"y":42.9},{"x":56.3,"y":42.9},
{"x":54.4,"y":44.9},{"x":54.8,"y":44.9},{"x":55.2,"y":44.9},{"x":55.6,"y":44.9},{"x":56.0,"y":44.9},{"x":56.3,"y":44.9},
{"x":53.5,"y":47.0},{"x":55.0,"y":47.0},{"x":55.4,"y":47.0},{"x":55.8,"y":47.0},{"x":56.2,"y":47.0},
{"x":62.0,"y":54.8},
{"x":50.2,"y":56.6},{"x":50.6,"y":56.6},{"x":51.0,"y":56.6},{"x":51.4,"y":56.6},{"x":51.8,"y":56.6},{"x":52.2,"y":56.6},{"x":52.6,"y":56.6},
{"x":56.0,"y":56.6},{"x":56.4,"y":56.6},{"x":56.8,"y":56.6},{"x":57.2,"y":56.6},{"x":57.6,"y":56.6},{"x":58.0,"y":56.6},{"x":58.5,"y":56.6},
{"x":61.6,"y":56.6},{"x":62.0,"y":56.6},{"x":62.4,"y":56.6},{"x":62.8,"y":56.6},{"x":63.2,"y":56.6},{"x":63.6,"y":56.6},{"x":64.0,"y":56.6},{"x":64.4,"y":56.6},{"x":64.8,"y":56.6},{"x":65.2,"y":56.6},{"x":65.6,"y":56.6},
{"x":38.1,"y":58.6},{"x":38.5,"y":58.6},{"x":38.9,"y":58.6},{"x":39.3,"y":58.6},{"x":39.7,"y":58.6},{"x":40.1,"y":58.6},{"x":40.5,"y":58.6},{"x":41.0,"y":58.6},{"x":41.4,"y":58.6},
{"x":42.9,"y":58.6},{"x":43.3,"y":58.6},{"x":43.8,"y":58.6},{"x":44.2,"y":58.6},{"x":44.6,"y":58.6},{"x":45.0,"y":58.6},{"x":45.4,"y":58.6},{"x":45.8,"y":58.6},{"x":46.2,"y":58.6},{"x":46.6,"y":58.6},{"x":47.0,"y":58.6},{"x":47.4,"y":58.6},{"x":47.9,"y":58.6},
{"x":50.3,"y":58.6},{"x":50.7,"y":58.6},{"x":51.1,"y":58.6},{"x":51.5,"y":58.6},{"x":51.9,"y":58.6},{"x":52.3,"y":58.6},{"x":52.7,"y":58.6},{"x":53.1,"y":58.6},{"x":53.6,"y":58.6},{"x":54.6,"y":58.6},
{"x":56.4,"y":58.6},{"x":56.8,"y":58.6},{"x":57.4,"y":58.6},
{"x":59.1,"y":58.6},{"x":59.5,"y":58.6},{"x":59.9,"y":58.6},{"x":60.3,"y":58.6},{"x":60.7,"y":58.6},{"x":61.1,"y":58.6},{"x":61.5,"y":58.6},
{"x":63.9,"y":58.6},{"x":64.3,"y":58.6},{"x":64.7,"y":58.6},{"x":65.1,"y":58.6},{"x":65.4,"y":58.6},
{"x":56.8,"y":60.7},{"x":57.2,"y":60.7},{"x":57.6,"y":60.7},{"x":58.0,"y":60.7},{"x":58.4,"y":60.7},{"x":58.8,"y":60.7},{"x":59.2,"y":60.7},{"x":59.6,"y":60.7},{"x":60.0,"y":60.7},{"x":60.4,"y":60.7},{"x":60.8,"y":60.7},
{"x":57.7,"y":62.5},{"x":58.1,"y":62.5},{"x":58.5,"y":62.5},{"x":58.9,"y":62.5},{"x":59.3,"y":62.5},{"x":59.7,"y":62.5},{"x":60.2,"y":62.5}
],
"e": [
{"x":2.4,"y":1.75},{"x":2.8,"y":1.75},{"x":3.2,"y":1.75},{"x":3.6,"y":1.75},{"x":4.0,"y":1.75},{"x":4.4,"y":1.75},{"x":4.8,"y":1.75},{"x":5.2,"y":1.75},
{"x":3.2,"y":3.8},{"x":3.6,"y":3.8},{"x":4.0,"y":3.8},{"x":4.4,"y":3.8},{"x":4.8,"y":3.8},{"x":5.2,"y":3.8},{"x":5.6,"y":3.8},{"x":6.0,"y":3.8},{"x":6.4,"y":3.8},{"x":6.7,"y":3.8},
{"x":4.5,"y":6.0},{"x":4.9,"y":6.0},{"x":5.3,"y":6.0},{"x":5.7,"y":6.0},{"x":6.1,"y":6.0},{"x":6.5,"y":6.0},{"x":6.9,"y":6.0},{"x":7.3,"y":6.0},{"x":7.7,"y":6.0},{"x":8.0,"y":6.0},
{"x":7.0,"y":7.65},{"x":7.4,"y":7.65},{"x":7.8,"y":7.65},{"x":8.2,"y":7.65},{"x":8.6,"y":7.65},{"x":9.0,"y":7.65},{"x":9.4,"y":7.65},{"x":9.8,"y":7.65},{"x":10.2,"y":7.65},{"x":10.6,"y":7.65},
{"x":8.0,"y":9.7},{"x":8.4,"y":9.7},{"x":8.8,"y":9.7},{"x":9.2,"y":9.7},{"x":9.6,"y":9.7},{"x":10.0,"y":9.7},{"x":10.5,"y":9.7},
{"x":10.5,"y":11.75},{"x":12.7,"y":11.75},{"x":13.1,"y":11.75},{"x":13.5,"y":11.75},{"x":13.9,"y":11.75},{"x":14.3,"y":11.75},{"x":15.5,"y":11.75},
{"x":12.7,"y":13.6},{"x":13.1,"y":13.6},{"x":13.5,"y":13.6},{"x":13.9,"y":13.6},{"x":14.3,"y":13.6},{"x":14.7,"y":13.6},{"x":15.1,"y":13.6},{"x":15.5,"y":13.6},{"x":15.9,"y":13.6},{"x":16.2,"y":13.6},
{"x":14.7,"y":15.6},{"x":15.1,"y":15.6},{"x":15.5,"y":15.6},{"x":15.9,"y":15.6},{"x":16.3,"y":15.6},{"x":16.7,"y":15.6},{"x":17.0,"y":15.6},{"x":22.5,"y":15.6},
{"x":15.7,"y":17.6},{"x":17.0,"y":17.6},{"x":21.5,"y":17.6},{"x":21.9,"y":17.6},{"x":22.3,"y":17.6},{"x":22.7,"y":17.6},{"x":23.1,"y":17.6},{"x":23.5,"y":17.6},{"x":23.9,"y":17.6},
{"x":20.5,"y":19.4},{"x":20.9,"y":19.4},{"x":21.3,"y":19.4},{"x":21.7,"y":19.4},{"x":22.1,"y":19.4},{"x":22.5,"y":19.4},{"x":22.9,"y":19.4},{"x":23.3,"y":19.4},{"x":23.7,"y":19.4},{"x":24.1,"y":19.4},{"x":24.5,"y":19.4},
{"x":21.5,"y":21.4},{"x":21.9,"y":21.4},{"x":22.3,"y":21.4},{"x":22.7,"y":21.4},{"x":23.1,"y":21.4},{"x":23.5,"y":21.4},{"x":23.9,"y":21.4},{"x":24.4,"y":21.4},
{"x":21.5,"y":23.5},{"x":21.9,"y":23.5},{"x":22.3,"y":23.5},{"x":22.7,"y":23.5},{"x":23.1,"y":23.5},{"x":23.5,"y":23.5},{"x":23.9,"y":23.5},{"x":24.3,"y":23.5},{"x":24.8,"y":23.5},
{"x":29.6,"y":25.3},{"x":31.1,"y":25.3},
{"x":28.1,"y":27.3},{"x":28.5,"y":27.3},{"x":28.9,"y":27.3},{"x":29.3,"y":27.3},{"x":29.7,"y":27.3},{"x":30.1,"y":27.3},{"x":30.5,"y":27.3},{"x":30.9,"y":27.3},{"x":31.3,"y":27.3},
{"x":28.3,"y":29.4},{"x":28.7,"y":29.4},{"x":29.1,"y":29.4},{"x":29.5,"y":29.4},{"x":29.9,"y":29.4},{"x":30.3,"y":29.4},{"x":30.7,"y":29.4},{"x":31.1,"y":29.4},{"x":31.5,"y":29.4},{"x":31.9,"y":29.4},{"x":32.2,"y":29.4},
{"x":28.2,"y":31.3},{"x":28.6,"y":31.3},{"x":29.0,"y":31.3},{"x":29.4,"y":31.3},{"x":29.8,"y":31.3},{"x":30.2,"y":31.3},{"x":30.6,"y":31.3},{"x":31.1,"y":31.3},{"x":37.5,"y":31.3},
{"x":28.8,"y":33.2},{"x":29.2,"y":33.2},{"x":29.6,"y":33.2},{"x":30.0,"y":33.2},{"x":30.4,"y":33.2},{"x":30.8,"y":33.2},{"x":31.1,"y":33.2},
{"x":37.5,"y":33.2},{"x":37.9,"y":33.2},{"x":38.3,"y":33.2},{"x":38.7,"y":33.2},{"x":39.1,"y":33.2},{"x":39.5,"y":33.2},{"x":39.9,"y":33.2},{"x":40.3,"y":33.2},{"x":40.7,"y":33.2},{"x":41.1,"y":33.2},{"x":41.5,"y":33.2},{"x":42.0,"y":33.2},{"x":43.3,"y":33.2},
{"x":29.4,"y":35.2},{"x":38.2,"y":35.2},{"x":38.6,"y":35.2},{"x":39.0,"y":35.2},{"x":39.4,"y":35.2},{"x":40.7,"y":35.2},
{"x":40.8,"y":38.9},{"x":41.2,"y":38.9},{"x":41.6,"y":38.9},{"x":42.0,"y":38.9},{"x":42.4,"y":38.9},{"x":42.8,"y":38.9},{"x":43.2,"y":38.9},{"x":43.6,"y":38.9},{"x":44.0,"y":38.9},
{"x":37.5,"y":41.0},{"x":37.9,"y":41.0},{"x":38.3,"y":41.0},{"x":38.7,"y":41.0},{"x":39.1,"y":41.0},{"x":40.0,"y":41.0},{"x":40.4,"y":41.0},{"x":40.8,"y":41.0},{"x":41.2,"y":41.0},{"x":41.6,"y":41.0},{"x":42.0,"y":41.0},{"x":42.4,"y":41.0},
{"x":38.2,"y":43.0},{"x":38.6,"y":43.0},{"x":39.0,"y":43.0},{"x":39.4,"y":43.0},{"x":39.8,"y":43.0},{"x":40.2,"y":43.0},{"x":40.6,"y":43.0},{"x":41.0,"y":43.0},{"x":41.4,"y":43.0},{"x":54.5,"y":43.0},{"x":55.9,"y":43.0},
{"x":38.5,"y":44.8},{"x":40.0,"y":44.8},{"x":54.4,"y":44.8},{"x":54.8,"y":44.8},{"x":55.2,"y":44.8},{"x":55.6,"y":44.8},{"x":56.0,"y":44.8},{"x":56.4,"y":44.8},
{"x":53.6,"y":46.9},{"x":54.0,"y":46.9},{"x":54.4,"y":46.9},{"x":54.8,"y":46.9},{"x":55.2,"y":46.9},{"x":55.6,"y":46.9},{"x":56.0,"y":46.9},{"x":56.4,"y":46.9},
{"x":41.0,"y":48.9},
{"x":39.3,"y":56.5},{"x":40.1,"y":56.5},{"x":44.2,"y":56.5},{"x":44.6,"y":56.5},{"x":45.0,"y":56.5},{"x":45.4,"y":56.5},{"x":45.8,"y":56.5},
{"x":50.3,"y":56.5},{"x":50.7,"y":56.5},{"x":51.1,"y":56.5},{"x":51.5,"y":56.5},{"x":51.9,"y":56.5},{"x":52.3,"y":56.5},{"x":52.7,"y":56.5},{"x":53.1,"y":56.5},{"x":53.6,"y":56.5},
{"x":56.1,"y":56.5},{"x":56.5,"y":56.5},{"x":56.9,"y":56.5},{"x":57.3,"y":56.5},{"x":57.7,"y":56.5},{"x":58.1,"y":56.5},{"x":58.5,"y":56.5},
{"x":61.7,"y":56.5},{"x":62.1,"y":56.5},{"x":62.5,"y":56.5},{"x":62.9,"y":56.5},{"x":63.3,"y":56.5},{"x":63.7,"y":56.5},{"x":64.1,"y":56.5},{"x":64.5,"y":56.5},{"x":64.9,"y":56.5},{"x":65.3,"y":56.5},{"x":65.7,"y":56.5},
{"x":39.3,"y":58.5},{"x":39.7,"y":58.5},{"x":40.1,"y":58.5},{"x":40.5,"y":58.5},{"x":40.9,"y":58.5},{"x":41.2,"y":58.5},
{"x":42.9,"y":58.5},{"x":43.3,"y":58.5},{"x":43.8,"y":58.5},{"x":44.2,"y":58.5},{"x":44.6,"y":58.5},{"x":45.0,"y":58.5},{"x":45.4,"y":58.5},{"x":45.8,"y":58.5},{"x":46.2,"y":58.5},{"x":46.6,"y":58.5},{"x":47.0,"y":58.5},{"x":47.4,"y":58.5},{"x":47.9,"y":58.5},
{"x":50.6,"y":58.5},{"x":51.0,"y":58.5},{"x":51.4,"y":58.5},{"x":51.8,"y":58.5},{"x":52.2,"y":58.5},{"x":52.6,"y":58.5},{"x":53.0,"y":58.5},{"x":53.4,"y":58.5},{"x":54.6,"y":58.5},
{"x":63.7,"y":58.5},{"x":64.1,"y":58.5},{"x":64.5,"y":58.5},
{"x":50.4,"y":60.5},{"x":59.5,"y":60.5},{"x":61.1,"y":60.5},
{"x":58.0,"y":62.6},{"x":58.4,"y":62.6},{"x":58.8,"y":62.6},{"x":59.2,"y":62.6},{"x":59.6,"y":62.6},{"x":60.0,"y":62.6},{"x":60.4,"y":62.6},{"x":60.8,"y":62.6},{"x":61.2,"y":62.6},
{"x":57.0,"y":64.4},{"x":57.4,"y":64.4},{"x":57.8,"y":64.4},{"x":58.2,"y":64.4},{"x":58.6,"y":64.4},{"x":59.0,"y":64.4},{"x":59.3,"y":64.4},
{"x":42.0,"y":68.6}
],
"f": [
{"x":2.5,"y":1.75},{"x":2.9,"y":1.75},{"x":3.3,"y":1.75},{"x":3.7,"y":1.75},{"x":4.1,"y":1.75},{"x":4.5,"y":1.75},{"x":4.9,"y":1.75},{"x":5.3,"y":1.75},{"x":5.6,"y":1.75},
{"x":3.5,"y":3.8},{"x":3.9,"y":3.8},{"x":4.3,"y":3.8},{"x":4.7,"y":3.8},{"x":5.1,"y":3.8},{"x":5.5,"y":3.8},{"x":5.9,"y":3.8},{"x":6.3,"y":3.8},{"x":6.7,"y":3.8},{"x":7.0,"y":3.8},
{"x":4.9,"y":5.85},{"x":5.3,"y":5.85},{"x":5.7,"y":5.85},{"x":6.1,"y":5.85},{"x":6.5,"y":5.85},{"x":6.9,"y":5.85},{"x":7.3,"y":5.85},{"x":7.7,"y":5.85},{"x":8.0,"y":5.85},
{"x":53.8,"y":5.85},{"x":55.8,"y":5.85},{"x":56.2,"y":5.85},{"x":56.6,"y":5.85},{"x":57.0,"y":5.85},{"x":57.4,"y":5.85},{"x":57.8,"y":5.85},{"x":58.3,"y":5.85},{"x":63.9,"y":5.85},
{"x":7.0,"y":7.65},{"x":7.4,"y":7.65},{"x":7.8,"y":7.65},{"x":8.2,"y":7.65},{"x":8.6,"y":7.65},{"x":9.0,"y":7.65},{"x":9.4,"y":7.65},{"x":9.8,"y":7.65},{"x":10.2,"y":7.65},{"x":10.6,"y":7.65},
{"x":57.0,"y":7.65},{"x":62.5,"y":7.65},{"x":62.9,"y":7.65},{"x":63.3,"y":7.65},{"x":63.7,"y":7.65},{"x":64.1,"y":7.65},{"x":64.5,"y":7.65},{"x":65.0,"y":7.65},
{"x":8.0,"y":9.7},{"x":8.4,"y":9.7},{"x":8.8,"y":9.7},{"x":9.2,"y":9.7},{"x":9.6,"y":9.7},{"x":10.0,"y":9.7},{"x":10.5,"y":9.7},
{"x":61.6,"y":9.7},{"x":62.0,"y":9.7},{"x":62.4,"y":9.7},{"x":62.8,"y":9.7},{"x":63.3,"y":9.7},
{"x":10.5,"y":11.75},{"x":12.8,"y":11.75},{"x":13.2,"y":11.75},{"x":13.6,"y":11.75},{"x":14.0,"y":11.75},{"x":14.4,"y":11.75},{"x":14.8,"y":11.75},{"x":15.5,"y":11.75},
{"x":39.8,"y":11.75},{"x":40.2,"y":11.75},{"x":40.6,"y":11.75},{"x":41.0,"y":11.75},{"x":41.4,"y":11.75},{"x":41.8,"y":11.75},{"x":42.5,"y":11.75},{"x":43.9,"y":11.75},
{"x":13.4,"y":13.8},{"x":13.8,"y":13.8},{"x":14.2,"y":13.8},{"x":14.6,"y":13.8},{"x":15.0,"y":13.8},{"x":15.4,"y":13.8},{"x":15.8,"y":13.8},{"x":16.2,"y":13.8},{"x":22.5,"y":13.8},
{"x":14.8,"y":15.6},{"x":15.2,"y":15.6},{"x":15.6,"y":15.6},{"x":16.0,"y":15.6},{"x":16.4,"y":15.6},{"x":16.8,"y":15.6},{"x":17.3,"y":15.6},
{"x":21.5,"y":15.6},{"x":21.9,"y":15.6},{"x":22.3,"y":15.6},{"x":22.7,"y":15.6},{"x":23.1,"y":15.6},{"x":23.5,"y":15.6},{"x":23.9,"y":15.6},
{"x":20.5,"y":19.5},{"x":20.9,"y":19.5},{"x":21.3,"y":19.5},{"x":21.7,"y":19.5},{"x":22.1,"y":19.5},{"x":22.5,"y":19.5},{"x":22.9,"y":19.5},{"x":23.3,"y":19.5},{"x":23.7,"y":19.5},{"x":24.1,"y":19.5},{"x":24.6,"y":19.5},
{"x":21.5,"y":21.4},{"x":21.9,"y":21.4},{"x":22.3,"y":21.4},{"x":22.7,"y":21.4},{"x":23.1,"y":21.4},{"x":23.5,"y":21.4},{"x":23.9,"y":21.4},
{"x":28.7,"y":21.4},{"x":29.1,"y":21.4},{"x":29.5,"y":21.4},{"x":29.9,"y":21.4},{"x":30.3,"y":21.4},{"x":30.7,"y":21.4},{"x":31.2,"y":21.4},
{"x":22.8,"y":23.3},{"x":23.2,"y":23.3},{"x":23.6,"y":23.3},{"x":24.0,"y":23.3},{"x":24.4,"y":23.3},{"x":24.7,"y":23.3},{"x":41.3,"y":23.3},
{"x":29.2,"y":25.4},{"x":29.6,"y":25.4},{"x":30.0,"y":25.4},{"x":30.4,"y":25.4},{"x":30.8,"y":25.4},{"x":31.2,"y":25.4},
{"x":29.7,"y":27.2},{"x":30.1,"y":27.2},{"x":30.5,"y":27.2},{"x":30.9,"y":27.2},{"x":31.2,"y":27.2},
{"x":28.1,"y":31.2},{"x":28.5,"y":31.2},{"x":28.9,"y":31.2},{"x":29.3,"y":31.2},{"x":29.7,"y":31.2},{"x":30.1,"y":31.2},{"x":30.6,"y":31.2},{"x":37.5,"y":31.2},
{"x":28.2,"y":33.0},{"x":29.7,"y":33.0},{"x":30.1,"y":33.0},{"x":30.5,"y":33.0},{"x":30.9,"y":33.0},{"x":31.3,"y":33.0},{"x":31.7,"y":33.0},{"x":32.1,"y":33.0},
{"x":37.5,"y":33.0},{"x":37.9,"y":33.0},{"x":38.3,"y":33.0},{"x":38.7,"y":33.0},{"x":39.1,"y":33.0},{"x":39.5,"y":33.0},{"x":40.6,"y":33.0},
{"x":29.6,"y":35.0},{"x":30.0,"y":35.0},{"x":30.7,"y":35.0},{"x":37.7,"y":35.0},{"x":38.1,"y":35.0},{"x":38.5,"y":35.0},{"x":38.9,"y":35.0},{"x":39.3,"y":35.0},{"x":39.7,"y":35.0},{"x":40.1,"y":35.0},
{"x":42.1,"y":38.8},
{"x":38.5,"y":40.9},{"x":38.9,"y":40.9},{"x":39.3,"y":40.9},{"x":39.7,"y":40.9},{"x":40.1,"y":40.9},{"x":40.5,"y":40.9},{"x":40.9,"y":40.9},{"x":41.3,"y":40.9},{"x":41.7,"y":40.9},{"x":42.0,"y":40.9},
{"x":38.5,"y":42.9},{"x":38.9,"y":42.9},{"x":39.3,"y":42.9},{"x":39.7,"y":42.9},{"x":40.1,"y":42.9},{"x":40.5,"y":42.9},{"x":40.9,"y":42.9},{"x":41.4,"y":42.9},
{"x":38.5,"y":44.9},{"x":38.9,"y":44.9},{"x":39.3,"y":44.9},{"x":39.7,"y":44.9},{"x":40.1,"y":44.9},{"x":40.6,"y":44.9},
{"x":38.4,"y":48.8},{"x":38.8,"y":48.8},{"x":39.6,"y":48.8},{"x":40.0,"y":48.8},{"x":40.4,"y":48.8},{"x":41.1,"y":48.8},{"x":55.8,"y":48.8},
{"x":44.8,"y":56.6},{"x":45.2,"y":56.6},{"x":46.9,"y":56.6},
{"x":50.4,"y":56.6},{"x":50.8,"y":56.6},{"x":51.2,"y":56.6},{"x":51.6,"y":56.6},{"x":52.0,"y":56.6},{"x":52.4,"y":56.6},{"x":52.8,"y":56.6},{"x":53.2,"y":56.6},{"x":53.6,"y":56.6},{"x":54.0,"y":56.6},{"x":54.4,"y":56.6},{"x":54.8,"y":56.6},{"x":55.2,"y":56.6},{"x":55.6,"y":56.6},{"x":56.0,"y":56.6},{"x":56.4,"y":56.6},{"x":56.8,"y":56.6},{"x":57.2,"y":56.6},{"x":57.6,"y":56.6},{"x":58.0,"y":56.6},{"x":58.3,"y":56.6},
{"x":39.4,"y":58.4},{"x":41.0,"y":58.4},
{"x":43.0,"y":58.4},{"x":43.4,"y":58.4},{"x":43.8,"y":58.4},{"x":44.2,"y":58.4},{"x":44.6,"y":58.4},{"x":45.0,"y":58.4},{"x":45.4,"y":58.4},{"x":45.8,"y":58.4},{"x":46.2,"y":58.4},{"x":46.6,"y":58.4},{"x":47.0,"y":58.4},{"x":47.4,"y":58.4},{"x":47.9,"y":58.4},
{"x":50.6,"y":58.4},{"x":51.0,"y":58.4},{"x":51.4,"y":58.4},{"x":51.8,"y":58.4},{"x":52.2,"y":58.4},{"x":52.6,"y":58.4},{"x":53.0,"y":58.4},{"x":53.4,"y":58.4},{"x":54.5,"y":58.4},{"x":55.6,"y":58.4},{"x":56.0,"y":58.4},{"x":56.7,"y":58.4},{"x":57.1,"y":58.4},{"x":57.9,"y":58.4},
{"x":51.1,"y":60.4},{"x":51.5,"y":60.4},{"x":51.9,"y":60.4},{"x":52.3,"y":60.4},{"x":52.8,"y":60.4},
{"x":54.4,"y":62.4},{"x":54.8,"y":62.4},{"x":55.2,"y":62.4},{"x":55.6,"y":62.4},{"x":56.0,"y":62.4},{"x":56.5,"y":62.4},{"x":57.3,"y":62.4},{"x":57.7,"y":62.4},{"x":58.1,"y":62.4},{"x":63.6,"y":62.4},
{"x":58.1,"y":64.2},{"x":58.5,"y":64.2},{"x":58.9,"y":64.2},{"x":59.3,"y":64.2},{"x":59.7,"y":64.2},{"x":60.1,"y":64.2},{"x":60.5,"y":64.2},{"x":60.9,"y":64.2},{"x":61.3,"y":64.2},
{"x":57.7,"y":66.3},{"x":58.1,"y":66.3},{"x":58.5,"y":66.3},{"x":58.9,"y":66.3},{"x":59.3,"y":66.3},{"x":59.7,"y":66.3},{"x":60.1,"y":66.3},{"x":60.5,"y":66.3},{"x":60.9,"y":66.3},{"x":61.3,"y":66.3},
{"x":42.0,"y":68.3},{"x":42.4,"y":68.3},{"x":42.8,"y":68.3},{"x":43.2,"y":68.3},{"x":43.5,"y":68.3},{"x":57.0,"y":68.3},{"x":58.3,"y":68.3}
]
},
"concat": [
{"width": 450, "height": 427,
 "title": {"text": "Fine Regression"},
 "layer": [
  {"data": {"name": "a"}, "mark": {"type": "point", "filled": true, "size": 36, "opacity": 1, "color": "#1f77b4"},
   "encoding": {"x": {"field": "x", "type": "quantitative", "scale": {"domain": [0, 35], "nice": false, "zero": false}, "axis": {"values": [0,5,10,15,20,25,30,35], "title": null}},
                "y": {"field": "y", "type": "quantitative", "scale": {"domain": [0, 35], "nice": false, "zero": false}, "axis": {"values": [0,5,10,15,20,25,30,35], "title": "CNN measurements (nm)"}}}},
  {"data": {"values": [{}]}, "mark": {"type": "rule", "strokeDash": [8, 5], "strokeWidth": 2.5, "color": "#111111"}, "encoding": {"x": {"datum": 0}, "y": {"datum": 0}, "x2": {"datum": 35}, "y2": {"datum": 35}}},
  {"data": {"values": [{}]}, "mark": {"type": "rect", "fill": "white", "stroke": "#1a1a1a", "strokeWidth": 1.5}, "encoding": {"x": {"datum": 0.91}, "x2": {"datum": 25.6}, "y": {"datum": 30.9}, "y2": {"datum": 34.26}}},
  {"data": {"values": [{}]}, "mark": {"type": "rect", "fill": "white", "stroke": "#1a1a1a", "strokeWidth": 1.5}, "encoding": {"x": {"datum": 0.91}, "x2": {"datum": 14.5}, "y": {"datum": 26.5}, "y2": {"datum": 29.75}}},
  {"data": {"values": [{}]}, "mark": {"type": "text", "text": "70pm integration radius", "align": "left", "baseline": "middle", "fontSize": 25, "color": "#1a1a1a"}, "encoding": {"x": {"datum": 1.5}, "y": {"datum": 32.58}}},
  {"data": {"values": [{}]}, "mark": {"type": "text", "text": "757 samples", "align": "left", "baseline": "middle", "fontSize": 25, "color": "#1a1a1a"}, "encoding": {"x": {"datum": 1.5}, "y": {"datum": 28.12}}},
  {"data": {"values": [{}]}, "mark": {"type": "text", "text": "a", "align": "right", "baseline": "alphabetic", "fontSize": 44, "color": "#111111"}, "encoding": {"x": {"datum": 34.07}, "y": {"datum": 1.65}}}
 ]},
{"width": 453, "height": 427,
 "title": {"text": "Coarse Classification"},
 "layer": [
  {"data": {"name": "d"}, "mark": {"type": "point", "filled": true, "size": 36, "opacity": 1, "color": "#1f77b4"},
   "encoding": {"x": {"field": "x", "type": "quantitative", "scale": {"domain": [0, 70], "nice": false, "zero": false}, "axis": {"values": [0,10,20,30,40,50,60,70], "title": null}},
                "y": {"field": "y", "type": "quantitative", "scale": {"domain": [0, 70], "nice": false, "zero": false}, "axis": {"values": [0,10,20,30,40,50,60,70], "title": "CNN measurements (nm)"}}}},
  {"data": {"values": [{}]}, "mark": {"type": "rule", "strokeDash": [8, 5], "strokeWidth": 2.5, "color": "#111111"}, "encoding": {"x": {"datum": 0}, "y": {"datum": 0}, "x2": {"datum": 70}, "y2": {"datum": 70}}},
  {"data": {"values": [{}]}, "mark": {"type": "rect", "fill": "white", "stroke": "#1a1a1a", "strokeWidth": 1.5}, "encoding": {"x": {"datum": 1.9}, "x2": {"datum": 51.0}, "y": {"datum": 61.8}, "y2": {"datum": 68.5}}},
  {"data": {"values": [{}]}, "mark": {"type": "rect", "fill": "white", "stroke": "#1a1a1a", "strokeWidth": 1.5}, "encoding": {"x": {"datum": 1.9}, "x2": {"datum": 31.4}, "y": {"datum": 53.0}, "y2": {"datum": 59.5}}},
  {"data": {"values": [{}]}, "mark": {"type": "text", "text": "70pm integration radius", "align": "left", "baseline": "middle", "fontSize": 25, "color": "#1a1a1a"}, "encoding": {"x": {"datum": 3.0}, "y": {"datum": 65.15}}},
  {"data": {"values": [{}]}, "mark": {"type": "text", "text": "1074 samples", "align": "left", "baseline": "middle", "fontSize": 25, "color": "#1a1a1a"}, "encoding": {"x": {"datum": 3.0}, "y": {"datum": 56.25}}},
  {"data": {"values": [{}]}, "mark": {"type": "text", "text": "d", "align": "right", "baseline": "alphabetic", "fontSize": 44, "color": "#111111"}, "encoding": {"x": {"datum": 67.9}, "y": {"datum": 3.2}}}
 ]},
{"width": 450, "height": 427,
 "layer": [
  {"data": {"name": "b"}, "mark": {"type": "point", "filled": true, "size": 36, "opacity": 1, "color": "#ff7f0e"},
   "encoding": {"x": {"field": "x", "type": "quantitative", "scale": {"domain": [0, 35], "nice": false, "zero": false}, "axis": {"values": [0,5,10,15,20,25,30,35], "title": null}},
                "y": {"field": "y", "type": "quantitative", "scale": {"domain": [0, 35], "nice": false, "zero": false}, "axis": {"values": [0,5,10,15,20,25,30,35], "title": "CNN measurements (nm)"}}}},
  {"data": {"values": [{}]}, "mark": {"type": "rule", "strokeDash": [8, 5], "strokeWidth": 2.5, "color": "#111111"}, "encoding": {"x": {"datum": 0}, "y": {"datum": 0}, "x2": {"datum": 35}, "y2": {"datum": 35}}},
  {"data": {"values": [{}]}, "mark": {"type": "rect", "fill": "white", "stroke": "#1a1a1a", "strokeWidth": 1.5}, "encoding": {"x": {"datum": 0.93}, "x2": {"datum": 26.8}, "y": {"datum": 31.0}, "y2": {"datum": 34.2}}},
  {"data": {"values": [{}]}, "mark": {"type": "text", "text": "105pm integration radius", "align": "left", "baseline": "middle", "fontSize": 25, "color": "#1a1a1a"}, "encoding": {"x": {"datum": 1.5}, "y": {"datum": 32.6}}},
  {"data": {"values": [{}]}, "mark": {"type": "text", "text": "b", "align": "right", "baseline": "alphabetic", "fontSize": 44, "color": "#111111"}, "encoding": {"x": {"datum": 34.07}, "y": {"datum": 1.65}}}
 ]},
{"width": 453, "height": 427,
 "layer": [
  {"data": {"name": "e"}, "mark": {"type": "point", "filled": true, "size": 36, "opacity": 1, "color": "#ff7f0e"},
   "encoding": {"x": {"field": "x", "type": "quantitative", "scale": {"domain": [0, 70], "nice": false, "zero": false}, "axis": {"values": [0,10,20,30,40,50,60,70], "title": null}},
                "y": {"field": "y", "type": "quantitative", "scale": {"domain": [0, 70], "nice": false, "zero": false}, "axis": {"values": [0,10,20,30,40,50,60,70], "title": "CNN measurements (nm)"}}}},
  {"data": {"values": [{}]}, "mark": {"type": "rule", "strokeDash": [8, 5], "strokeWidth": 2.5, "color": "#111111"}, "encoding": {"x": {"datum": 0}, "y": {"datum": 0}, "x2": {"datum": 70}, "y2": {"datum": 70}}},
  {"data": {"values": [{}]}, "mark": {"type": "rect", "fill": "white", "stroke": "#1a1a1a", "strokeWidth": 1.5}, "encoding": {"x": {"datum": 1.9}, "x2": {"datum": 53.4}, "y": {"datum": 62.0}, "y2": {"datum": 68.5}}},
  {"data": {"values": [{}]}, "mark": {"type": "text", "text": "105pm integration radius", "align": "left", "baseline": "middle", "fontSize": 25, "color": "#1a1a1a"}, "encoding": {"x": {"datum": 3.0}, "y": {"datum": 65.25}}},
  {"data": {"values": [{}]}, "mark": {"type": "text", "text": "e", "align": "right", "baseline": "alphabetic", "fontSize": 44, "color": "#111111"}, "encoding": {"x": {"datum": 67.9}, "y": {"datum": 3.2}}}
 ]},
{"width": 450, "height": 427,
 "layer": [
  {"data": {"name": "c"}, "mark": {"type": "point", "filled": true, "size": 36, "opacity": 1, "color": "#2ca02c"},
   "encoding": {"x": {"field": "x", "type": "quantitative", "scale": {"domain": [0, 35], "nice": false, "zero": false}, "axis": {"values": [0,5,10,15,20,25,30,35], "title": "HAADF estimations (nm)"}},
                "y": {"field": "y", "type": "quantitative", "scale": {"domain": [0, 35], "nice": false, "zero": false}, "axis": {"values": [0,5,10,15,20,25,30,35], "title": "CNN measurements (nm)"}}}},
  {"data": {"values": [{}]}, "mark": {"type": "rule", "strokeDash": [8, 5], "strokeWidth": 2.5, "color": "#111111"}, "encoding": {"x": {"datum": 0}, "y": {"datum": 0}, "x2": {"datum": 35}, "y2": {"datum": 35}}},
  {"data": {"values": [{}]}, "mark": {"type": "rect", "fill": "white", "stroke": "#1a1a1a", "strokeWidth": 1.5}, "encoding": {"x": {"datum": 0.93}, "x2": {"datum": 26.8}, "y": {"datum": 30.9}, "y2": {"datum": 34.1}}},
  {"data": {"values": [{}]}, "mark": {"type": "text", "text": "140pm integration radius", "align": "left", "baseline": "middle", "fontSize": 25, "color": "#1a1a1a"}, "encoding": {"x": {"datum": 1.5}, "y": {"datum": 32.5}}},
  {"data": {"values": [{}]}, "mark": {"type": "text", "text": "c", "align": "right", "baseline": "alphabetic", "fontSize": 44, "color": "#111111"}, "encoding": {"x": {"datum": 34.07}, "y": {"datum": 1.65}}}
 ]},
{"width": 453, "height": 427,
 "layer": [
  {"data": {"name": "f"}, "mark": {"type": "point", "filled": true, "size": 36, "opacity": 1, "color": "#2ca02c"},
   "encoding": {"x": {"field": "x", "type": "quantitative", "scale": {"domain": [0, 70], "nice": false, "zero": false}, "axis": {"values": [0,10,20,30,40,50,60,70], "title": "HAADF estimations (nm)"}},
                "y": {"field": "y", "type": "quantitative", "scale": {"domain": [0, 70], "nice": false, "zero": false}, "axis": {"values": [0,10,20,30,40,50,60,70], "title": "CNN measurements (nm)"}}}},
  {"data": {"values": [{}]}, "mark": {"type": "rule", "strokeDash": [8, 5], "strokeWidth": 2.5, "color": "#111111"}, "encoding": {"x": {"datum": 0}, "y": {"datum": 0}, "x2": {"datum": 70}, "y2": {"datum": 70}}},
  {"data": {"values": [{}]}, "mark": {"type": "rect", "fill": "white", "stroke": "#1a1a1a", "strokeWidth": 1.5}, "encoding": {"x": {"datum": 1.9}, "x2": {"datum": 53.4}, "y": {"datum": 61.8}, "y2": {"datum": 68.3}}},
  {"data": {"values": [{}]}, "mark": {"type": "text", "text": "140pm integration radius", "align": "left", "baseline": "middle", "fontSize": 25, "color": "#1a1a1a"}, "encoding": {"x": {"datum": 3.0}, "y": {"datum": 65.05}}},
  {"data": {"values": [{}]}, "mark": {"type": "text", "text": "f", "align": "right", "baseline": "alphabetic", "fontSize": 44, "color": "#111111"}, "encoding": {"x": {"datum": 67.9}, "y": {"datum": 3.2}}}
 ]}
]
}
